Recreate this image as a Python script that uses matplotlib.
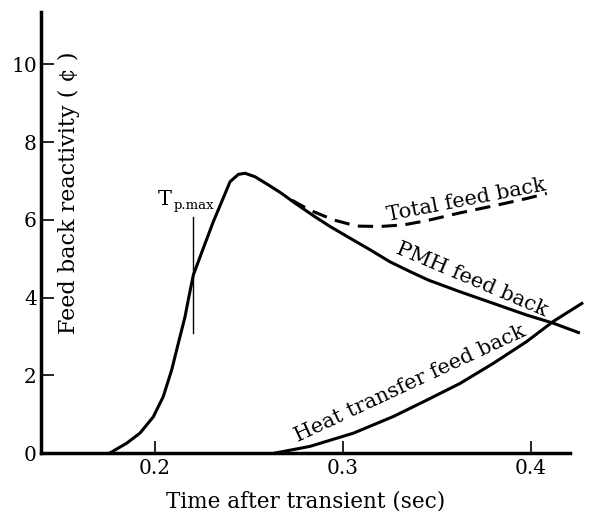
import matplotlib
matplotlib.use("Agg")
import matplotlib.pyplot as plt

# PMH feed back (main curve, includes rise and peak)
pmh_t = [0.176, 0.1849, 0.192, 0.1991, 0.2044, 0.2089, 0.2124, 0.216, 0.2177, 0.2204,
         0.2257, 0.231, 0.2363, 0.2399, 0.2443, 0.2479, 0.2532, 0.2603, 0.2674, 0.2745,
         0.2851, 0.2931, 0.3037, 0.3144, 0.325, 0.3356, 0.3454, 0.3622, 0.380, 0.3977,
         0.4119, 0.4252]
pmh_v = [0.0, 0.25, 0.51, 0.93, 1.45, 2.14, 2.82, 3.51, 3.94, 4.58,
         5.27, 5.95, 6.56, 6.98, 7.17, 7.20, 7.11, 6.90, 6.68, 6.43,
         6.08, 5.83, 5.53, 5.23, 4.92, 4.67, 4.45, 4.15, 3.85, 3.55,
         3.34, 3.10]

# Heat transfer feed back
ht_t = [0.264, 0.2824, 0.3055, 0.3268, 0.3445, 0.3622, 0.380, 0.3977, 0.4119, 0.427]
ht_v = [0.0, 0.17, 0.51, 0.94, 1.36, 1.79, 2.31, 2.87, 3.39, 3.85]

# Total feed back (dashed)
tot_t = [0.2727, 0.2824, 0.2949, 0.3073, 0.3197, 0.3321, 0.3445, 0.3622, 0.380, 0.3977, 0.4083]
tot_v = [6.51, 6.25, 6.00, 5.84, 5.83, 5.87, 5.98, 6.18, 6.36, 6.55, 6.68]

# Tp,max marker
tp_t = 0.2204
tp_v = [3.08, 6.08]

xticks = [0.2, 0.3, 0.4]
xticklabels = ["0.2", "0.3", "0.4"]
yticks = [0, 2, 4, 6, 8, 10]

plt.rcParams['font.family'] = ['DejaVu Serif']

fig = plt.figure(figsize=(5.9, 5.11), dpi=100)
ax = fig.add_axes([41 / 590, 58 / 511, 529 / 590, 441 / 511])

lw = 2.2
ax.plot(pmh_t, pmh_v, color='black', lw=lw, clip_on=False, solid_joinstyle='round')
ax.plot(ht_t, ht_v, color='black', lw=lw, clip_on=False, solid_joinstyle='round')
ax.plot(tot_t, tot_v, color='black', lw=lw, ls=(0, (5, 2.8)), clip_on=False)

ax.plot([tp_t, tp_t], tp_v, color='black', lw=1.0)
ax.text(0.2016, 6.38, "T", fontsize=15, ha='left', va='baseline')
ax.text(0.2097, 6.28, "p.max", fontsize=9.5, ha='left', va='baseline')

ax.text(0.3658, 6.51, "Total feed back", fontsize=15, rotation=11, ha='center', va='center')
ax.text(0.3684, 4.45, "PMH feed back", fontsize=15, rotation=-23, ha='center', va='center')
ax.text(0.3356, 1.79, "Heat transfer feed back", fontsize=15, rotation=25, ha='center', va='center')

ax.text(0.1543, 6.69, "Feed back reactivity ( ¢ )", fontsize=16, rotation=90,
        ha='center', va='center')

ax.set_xlim(0.1394, 0.4207)
ax.set_ylim(0, 11.35)
ax.set_xticks(xticks)
ax.set_xticklabels(xticklabels)
ax.set_yticks(yticks)
ax.tick_params(direction='in', length=9, width=1.2, labelsize=14.5, pad=4)
ax.tick_params(axis='y', pad=3)
ax.spines['top'].set_visible(False)
ax.spines['right'].set_visible(False)
ax.spines['left'].set_linewidth(2.5)
ax.spines['bottom'].set_linewidth(2.5)

ax.set_xlabel("Time after transient (sec)", fontsize=15.5, labelpad=9)

fig.savefig("out.png", dpi=100)
